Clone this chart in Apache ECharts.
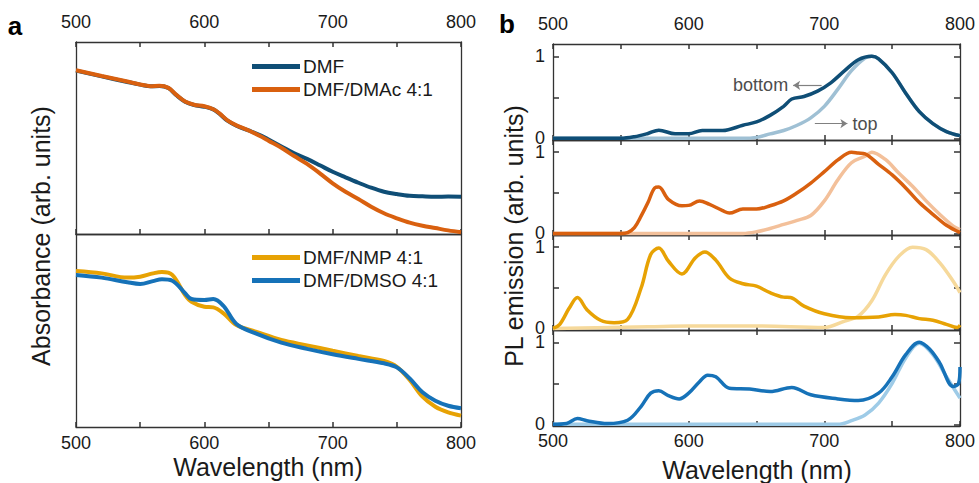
<!DOCTYPE html>
<html>
<head>
<meta charset="utf-8">
<script src="https://cdn.jsdelivr.net/npm/echarts@6/dist/echarts.min.js"></script>
<style>
  html, body { margin: 0; padding: 0; background: #fff; }
  #chart { width: 979px; height: 483px; }
</style>
</head>
<body>
<div id="chart"></div>
<script>
// ---- Panel a: absorbance (arbitrary units) ----
const absWlTop = [500,520,540,550,558,565,572,578,585,592,600,607,612,618,625,635,645,650,660,670,680,690,700,710,720,730,740,750,760,770,780,790,800];
const absDMF   = [0.851,0.821,0.792,0.778,0.769,0.771,0.760,0.724,0.689,0.672,0.663,0.649,0.625,0.590,0.564,0.538,0.510,0.492,0.456,0.420,0.391,0.358,0.324,0.295,0.267,0.241,0.220,0.208,0.199,0.196,0.194,0.195,0.194];
const absDMAc  = [0.853,0.823,0.794,0.779,0.770,0.772,0.761,0.726,0.690,0.673,0.665,0.650,0.627,0.592,0.566,0.538,0.505,0.486,0.449,0.406,0.365,0.316,0.264,0.220,0.182,0.142,0.108,0.082,0.059,0.043,0.031,0.019,0.009];

const absWlBottom = [500,520,540,550,560,567,575,585,590,600,607,615,625,640,660,680,700,720,740,750,760,770,780,790,800];
const absNMP  = [0.808,0.796,0.774,0.779,0.796,0.803,0.788,0.684,0.649,0.623,0.620,0.589,0.528,0.494,0.451,0.423,0.395,0.368,0.342,0.312,0.244,0.157,0.105,0.076,0.059];
const absDMSO = [0.788,0.774,0.750,0.741,0.756,0.765,0.758,0.693,0.663,0.658,0.663,0.627,0.534,0.485,0.437,0.405,0.377,0.353,0.330,0.309,0.252,0.180,0.136,0.110,0.097];

// ---- Panel b: normalised PL emission, bottom- and top-side excitation ----
const plDmfBottomWl = [500,550,560,570,578,590,600,610,625,640,650,660,670,676,685,695,705,715,725,735,740,750,760,770,780,790,800];
const plDmfBottom   = [0,0,0.02,0.06,0.10,0.055,0.055,0.096,0.096,0.16,0.20,0.28,0.39,0.48,0.51,0.575,0.68,0.825,0.958,1.0,0.97,0.80,0.55,0.325,0.18,0.083,0.033];
const plDmfTopWl    = [500,640,650,660,670,680,690,700,710,720,730,735,740,750,760,770,780,790,800];
const plDmfTop      = [0,0,0.012,0.055,0.096,0.16,0.25,0.39,0.6,0.825,0.98,1.0,0.97,0.80,0.55,0.325,0.18,0.083,0.033];

const plDmacBottomWl = [500,550,555,560,565,570,575,578,585,595,600,608,615,625,630,640,650,660,670,680,690,700,710,720,725,730,740,750,760,770,780,790,800];
const plDmacBottom   = [0,0,0.01,0.07,0.215,0.38,0.56,0.57,0.42,0.34,0.345,0.40,0.36,0.28,0.25,0.30,0.30,0.34,0.40,0.50,0.62,0.76,0.905,1.0,0.99,0.98,0.85,0.72,0.56,0.38,0.235,0.10,0.01];
const plDmacTopWl    = [500,640,650,660,670,680,690,700,710,720,730,735,745,755,765,775,785,795,800];
const plDmacTop      = [0,0,0.02,0.06,0.11,0.16,0.22,0.40,0.66,0.87,0.95,1.0,0.91,0.74,0.58,0.40,0.235,0.09,0.045];

const plNmpBottomWl = [500,505,512,518,525,535,545,555,565,572,578,585,595,605,612,620,630,640,650,660,670,675,685,700,720,740,752,760,770,780,790,798,800];
const plNmpBottom   = [0,0.05,0.25,0.38,0.23,0.10,0.07,0.11,0.5,0.91,0.99,0.83,0.67,0.87,0.94,0.84,0.62,0.55,0.52,0.44,0.385,0.38,0.275,0.18,0.13,0.14,0.17,0.16,0.12,0.10,0.05,0.01,0.04];
const plNmpTopWl    = [500,570,600,650,700,715,725,735,745,755,765,775,785,795,800];
const plNmpTop      = [0,0.02,0.03,0.03,0.01,0.09,0.15,0.34,0.66,0.89,1.0,0.97,0.81,0.58,0.44];

const plDmsoBottomWl = [500,510,518,525,540,555,565,572,578,585,593,600,608,614,620,630,645,660,676,690,710,725,740,750,760,770,778,785,795,799,800];
const plDmsoBottom   = [0,0.01,0.07,0.045,0.01,0.05,0.22,0.38,0.41,0.35,0.31,0.38,0.52,0.60,0.58,0.44,0.43,0.40,0.45,0.36,0.31,0.29,0.38,0.58,0.85,1.0,0.91,0.75,0.46,0.5,0.70];
const plDmsoTopWl    = [500,710,720,730,740,750,760,770,780,790,800];
const plDmsoTop      = [0,0,0.045,0.115,0.26,0.50,0.81,0.99,0.85,0.58,0.32];

const xLabels = [500, 600, 700, 800];
const xTickMarks = [500, 550, 600, 650, 700, 750, 800];
const yLabels = [0, 1];
const yTickMarks = [0, 0.5, 1];
const legendTop = ['DMF', 'DMF/DMAc 4:1'];
const legendBottom = ['DMF/NMP 4:1', 'DMF/DMSO 4:1'];

// ---- styling ----
const FONT = '"Liberation Sans", Arial, Helvetica, sans-serif';
const AXIS = '#333333';
const TEXT = '#1a1a1a';
const C = {
  dmf: '#0f4e76', dmfLight: '#9fc0d4',
  dmac: '#d9600f', dmacLight: '#f3c09a',
  nmp: '#e7a204', nmpLight: '#f6d99b',
  dmso: '#1672b8', dmsoLight: '#9ecbe7'
};

const pairs = (xs, ys) => xs.map((x, i) => [x, ys[i]]);

const grids = [
  { left: 76, top: 42, width: 385, height: 192 },
  { left: 76, top: 234, width: 385, height: 193 },
  { left: 553, top: 44, width: 407, height: 96 },
  { left: 553, top: 140, width: 407, height: 95 },
  { left: 553, top: 235, width: 407, height: 95 },
  { left: 553, top: 330, width: 407, height: 96 }
];

// x axes: two per grid (bottom = 2g, top = 2g+1), inward ticks every 50 nm
function xAx(g, position, ticks, labels, margin) {
  return {
    type: 'value', gridIndex: g, position: position,
    min: 500, max: 800, interval: 50,
    axisLine: { show: true, onZero: false, lineStyle: { color: AXIS, width: 1.3 } },
    axisTick: { show: ticks, inside: true, length: 5, customValues: xTickMarks,
      lineStyle: { color: AXIS, width: 1.5 } },
    splitLine: { show: false },
    axisLabel: {
      show: labels, fontFamily: FONT, fontSize: 18, color: TEXT,
      margin: margin || 8, customValues: xLabels
    }
  };
}
const xAxis = [
  xAx(0, 'bottom', true, false), xAx(0, 'top', true, true, 11),
  xAx(1, 'bottom', true, true, 7), xAx(1, 'top', false, false),
  xAx(2, 'bottom', true, false), xAx(2, 'top', true, true, 11),
  xAx(3, 'bottom', true, false), xAx(3, 'top', true, false),
  xAx(4, 'bottom', true, false), xAx(4, 'top', true, false),
  xAx(5, 'bottom', true, true, 6), xAx(5, 'top', true, false)
];

// y axes: left (2g) and right (2g+1) frame sides
const yAxis = [];
grids.forEach((gr, g) => {
  const pl = g >= 2;
  ['left', 'right'].forEach(pos => yAxis.push({
    type: 'value', gridIndex: g, position: pos,
    min: pl ? -0.02 : 0, max: pl ? 1.15 : 1,
    axisLine: { show: true, onZero: false, lineStyle: { color: AXIS, width: 1.3 } },
    axisTick: { show: pl, inside: true, length: 6, customValues: yTickMarks,
      lineStyle: { color: AXIS, width: 1.5 } },
    axisLabel: { show: pl && pos === 'left', customValues: yLabels, fontFamily: FONT, fontSize: 18, color: TEXT, margin: 8 },
    splitLine: { show: false }
  }));
});

function line(name, g, data, color, width, z, extra) {
  return Object.assign({
    type: 'line', name: name, xAxisIndex: 2 * g, yAxisIndex: 2 * g,
    data: data, showSymbol: false, symbol: 'none', smooth: 0.35, z: z,
    lineStyle: { color: color, width: width }, itemStyle: { color: color },
    silent: true
  }, extra || {});
}

const arrowStyle = { color: '#808080', width: 1.2, type: 'solid' };
const annotations = {
  markLine: {
    silent: true, symbol: ['none', 'arrow'], symbolSize: [7, 7],
    lineStyle: arrowStyle, animation: false,
    data: [
      [
        { coord: [698, 0.646], label: { show: true, position: 'end', formatter: 'bottom', distance: 5,
          fontFamily: FONT, fontSize: 18, color: '#4d4d4d', padding: [6, 0, 0, 0] } },
        { coord: [677, 0.646] }
      ],
      [
        { coord: [693, 0.18], label: { show: true, position: 'end', formatter: 'top', distance: 5,
          fontFamily: FONT, fontSize: 18, color: '#4d4d4d', padding: [10, 0, 0, 0] } },
        { coord: [717, 0.18] }
      ]
    ]
  }
};

const series = [
  line('DMF', 0, pairs(absWlTop, absDMF), C.dmf, 4, 2),
  line('DMF/DMAc 4:1', 0, pairs(absWlTop, absDMAc), C.dmac, 4, 3),
  line('DMF/NMP 4:1', 1, pairs(absWlBottom, absNMP), C.nmp, 4, 2),
  line('DMF/DMSO 4:1', 1, pairs(absWlBottom, absDMSO), C.dmso, 4, 3),

  line('DMF top', 2, pairs(plDmfTopWl, plDmfTop), C.dmfLight, 3.5, 2),
  line('DMF bottom', 2, pairs(plDmfBottomWl, plDmfBottom), C.dmf, 3.5, 3, annotations),
  line('DMAc top', 3, pairs(plDmacTopWl, plDmacTop), C.dmacLight, 3.5, 2),
  line('DMAc bottom', 3, pairs(plDmacBottomWl, plDmacBottom), C.dmac, 3.5, 3),
  line('NMP top', 4, pairs(plNmpTopWl, plNmpTop), C.nmpLight, 3.5, 2),
  line('NMP bottom', 4, pairs(plNmpBottomWl, plNmpBottom), C.nmp, 3.5, 3),
  line('DMSO top', 5, pairs(plDmsoTopWl, plDmsoTop), C.dmsoLight, 3.5, 2),
  line('DMSO bottom', 5, pairs(plDmsoBottomWl, plDmsoBottom), C.dmso, 3.5, 3)
];

const legendBase = {
  orient: 'vertical', left: 247, itemWidth: 48, itemHeight: 5, itemGap: 4,
  icon: 'rect', selectedMode: false,
  textStyle: { fontFamily: FONT, fontSize: 19, color: TEXT, padding: [0, 0, 0, -2] }
};

function label(text, x, y, size, opts) {
  return Object.assign({
    type: 'text', x: x, y: y, silent: true,
    style: { text: text, fontFamily: FONT, fontSize: size, fill: TEXT, align: 'center', verticalAlign: 'middle' }
  }, opts || {});
}

const option = {
  animation: false,
  grid: grids,
  xAxis: xAxis,
  yAxis: yAxis,
  legend: [
    Object.assign({}, legendBase, { top: 52, data: legendTop }),
    Object.assign({}, legendBase, { top: 243, data: legendBottom })
  ],
  series: series,
  graphic: [
    label('Absorbance (arb. units)', 41, 236, 25, { rotation: Math.PI / 2 }),
    label('PL emission (arb. units)', 514, 236, 25, { rotation: Math.PI / 2 }),
    label('Wavelength (nm)', 268, 467, 25),
    label('Wavelength (nm)', 757, 470, 25),
    { type: 'text', x: 15, y: 26, silent: true,
      style: { text: 'a', fontFamily: FONT, fontSize: 26, fontWeight: 'bold', fill: '#000', align: 'center', verticalAlign: 'middle' } },
    { type: 'text', x: 507, y: 24, silent: true,
      style: { text: 'b', fontFamily: FONT, fontSize: 26, fontWeight: 'bold', fill: '#000', align: 'center', verticalAlign: 'middle' } }
  ]
};

const chart = echarts.init(document.getElementById('chart'), null, { renderer: 'svg' });
chart.setOption(option);
</script>
</body>
</html>
